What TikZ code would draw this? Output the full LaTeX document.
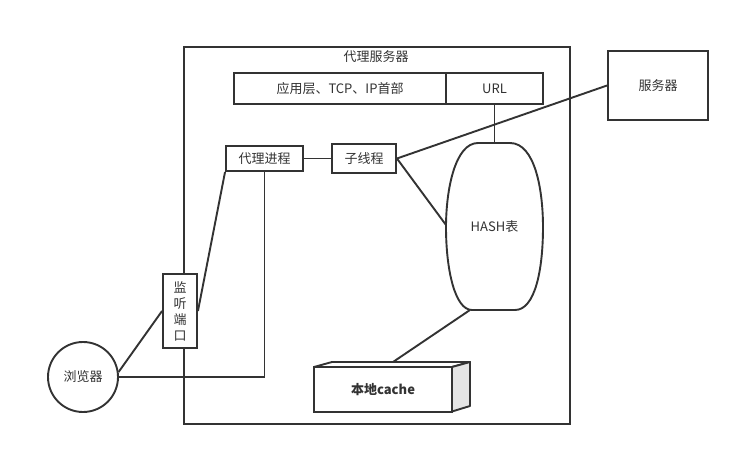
\documentclass[tikz,border=0pt]{standalone}
\usepackage{fontspec}
\setmainfont{Noto Sans CJK SC}
\definecolor{ink}{HTML}{333333}
\definecolor{sidegray}{HTML}{E4E4E4}
\begin{document}
\begin{tikzpicture}[x=1pt,y=-1pt,
  every node/.style={font=\fontsize{13}{16}\selectfont, text=ink},
  box/.style={draw=ink, line width=1.9pt, fill=white, rectangle, inner sep=0pt},
  conn/.style={draw=ink, line width=1.9pt}]
\useasboundingbox (0,0) rectangle (740,457);
% outer frame
\node[box, fill=none, minimum width=386pt, minimum height=377pt] (frame) at (377,235.5) {};
\node (title) at (376,57) {代理服务器};
% header
\node[box, minimum width=212pt, minimum height=31pt] (hdrA) at (340,88.5) {应用层、TCP、IP首部};
\node[box, minimum width=97pt, minimum height=31pt] (hdrB) at (494.5,88.5) {URL};
% server
\node[box, minimum width=100pt, minimum height=69pt] (server) at (658,85.5) {服务器};
% hash coordinates
\coordinate (hashtop) at (494.5,143);
\coordinate (hashL) at (446,225);
\coordinate (hashbot) at (470,310);
\coordinate (cachetop) at (393,362);
% connectors
\draw[conn] (hdrB.south) -- (hashtop);
\node[box, minimum width=77pt, minimum height=25pt] (proc) at (264.5,158.5) {代理进程};
\node[box, minimum width=64pt, minimum height=29pt] (sub) at (364,158.5) {子线程};
\node[box, minimum width=34pt, minimum height=74pt, align=center] (port) at (180,311) {监\\听\\端\\口};
\node[box, circle, minimum size=70pt] (browser) at (83,377) {浏览器};
\draw[conn] (proc.east) -- (sub.west);
\draw[conn] (sub.east) -- (server.west);
\draw[conn] (sub.east) -- (hashL);
\draw[conn] (proc.south west) -- (port.east);
\draw[conn] (browser.8) -- (port.west);
\draw[conn] (browser.east) -- (proc.south |- browser.east) -- (proc.south);
\draw[conn] (hashbot) -- (cachetop);
% hash table shape
\draw[conn, fill=white] (478,143) -- (510,143)
  .. controls (535,143) and (543,190) .. (543,227)
  .. controls (543,270) and (535,310) .. (515,310)
  -- (472,310)
  .. controls (455,310) and (446,270) .. (446,227)
  .. controls (446,190) and (455,143) .. (478,143) -- cycle;
\node (hash) at (494.5,227) {HASH表};
% cache box
\draw[conn, fill=white, line join=round] (314,367) -- (332,362) -- (470,362) -- (452,367) -- cycle;
\draw[conn, fill=sidegray, line join=round] (452,367) -- (470,362) -- (470,406) -- (452,411.5) -- cycle;
\node[box, minimum width=138pt, minimum height=44.5pt, font=\fontsize{13}{16}\selectfont\bfseries] (cache) at (383,389.5) {本地cache};
\end{tikzpicture}
\end{document}
